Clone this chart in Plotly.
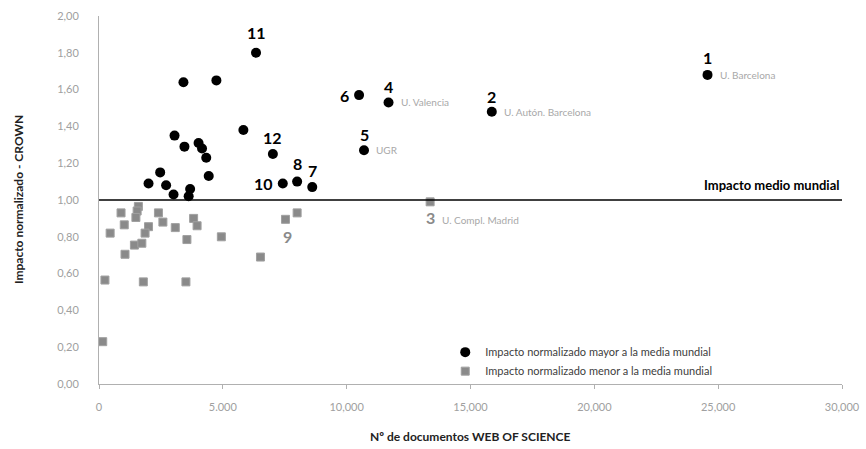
import plotly.graph_objects as go

# ---------------- data ----------------
# Universities above world average (black)
high_labels = ["1", "2", "4", "5", "6", "7", "8", "10", "11", "12",
               "", "", "", "", "", "", "", "", "", "", "", "", "", "", ""]
high_names = ["U. Barcelona", "U. Autón. Barcelona", "U. Valencia", "UGR", "", "", "", "", "", "",
              "", "", "", "", "", "", "", "", "", "", "", "", "", "", ""]
high_docs = [24570, 15860, 11690, 10700, 10500, 8610, 8000, 7420, 6340, 7020,
             3410, 4740, 3050, 5830, 3450, 4020, 4160, 4330, 4430, 2470,
             2000, 2710, 3680, 3010, 3620]
high_impact = [1.68, 1.48, 1.53, 1.27, 1.57, 1.07, 1.10, 1.09, 1.80, 1.25,
               1.64, 1.65, 1.35, 1.38, 1.29, 1.31, 1.28, 1.23, 1.13, 1.15,
               1.09, 1.08, 1.06, 1.03, 1.02]

# Universities below world average (grey)
low_labels = ["3", "9", "", "", "", "", "", "", "", "", "", "", "", "",
              "", "", "", "", "", "", "", "", "", "", "", ""]
low_names = ["U. Compl. Madrid", "", "", "", "", "", "", "", "", "", "", "", "", "",
             "", "", "", "", "", "", "", "", "", "", "", ""]
low_docs = [13370, 7530, 8000, 890, 1020, 1590, 1540, 1490, 450, 2000, 1860,
            2400, 2580, 3080, 3820, 3960, 3550, 1430, 1730, 1050, 4940, 6520,
            240, 1790, 3510, 150]
low_impact = [0.99, 0.895, 0.93, 0.93, 0.865, 0.965, 0.94, 0.905, 0.82, 0.855, 0.82,
              0.93, 0.88, 0.85, 0.90, 0.86, 0.785, 0.755, 0.765, 0.705, 0.80, 0.69,
              0.565, 0.555, 0.555, 0.23]

world_mean = 1.0
x_tickvals = [0, 5000, 10000, 15000, 20000, 25000, 30000]
x_ticktext = ["0", "5.000", "10,000", "15,000", "20,000", "25,000", "30,000"]
y_tickvals = [0, 0.2, 0.4, 0.6, 0.8, 1.0, 1.2, 1.4, 1.6, 1.8, 2.0]
y_ticktext = ["0,00", "0,20", "0,40", "0,60", "0,80", "1,00", "1,20", "1,40", "1,60", "1,80", "2,00"]
x_title = "Nº de documentos WEB OF SCIENCE"
y_title = "Impacto normalizado - CROWN"

# ---------------- styles ----------------
FONT = "Lato"
label_offsets = {  # (xshift, yshift, xanchor)
    "1": (0, 17, "center"), "2": (0, 15, "center"), "4": (0, 16, "center"),
    "5": (0, 16, "center"), "6": (-8, 0, "right"), "7": (0, 17, "center"),
    "8": (0, 18, "center"), "10": (-8, 0, "right"), "11": (0, 20, "center"),
    "12": (0, 17, "center"), "3": (0, -16, "center"), "9": (2, -17, "center"),
}

fig = go.Figure()

fig.add_trace(go.Scatter(
    x=high_docs, y=high_impact, mode="markers",
    marker=dict(symbol="circle", size=10, color="#000000"),
    name="Impacto normalizado mayor a la media mundial",
))
fig.add_trace(go.Scatter(
    x=low_docs, y=low_impact, mode="markers",
    marker=dict(symbol="square", size=8, color="#8a8a8a",
                line=dict(color="#a0a0a0", width=1)),
    name="Impacto normalizado menor a la media mundial",
))

# world mean line
fig.add_shape(type="line", xref="x", yref="y", x0=0, x1=30000,
              y0=world_mean, y1=world_mean, line=dict(color="#000000", width=1.5))
fig.add_annotation(xref="x", yref="y", x=30000, y=world_mean, yshift=15,
                   text="<b>Impacto medio mundial</b>", showarrow=False,
                   xanchor="right", font=dict(family=FONT, size=13, color="#000000"))

def add_labels(labels, names, xs, ys, color, name_color):
    for lab, nm, xv, yv in zip(labels, names, xs, ys):
        if lab:
            dx, dy, anc = label_offsets[lab]
            fig.add_annotation(xref="x", yref="y", x=xv, y=yv, xshift=dx, yshift=dy,
                               text="<b>%s</b>" % lab, showarrow=False, xanchor=anc,
                               font=dict(family=FONT, size=16, color=color))
        if nm:
            dy = -18 if lab == "3" else 0
            fig.add_annotation(xref="x", yref="y", x=xv, y=yv, xshift=10, yshift=dy,
                               text=nm, showarrow=False, xanchor="left",
                               font=dict(family=FONT, size=10, color=name_color))

add_labels(high_labels, high_names, high_docs, high_impact, "#000000", "#a8a8a8")
add_labels(low_labels, low_names, low_docs, low_impact, "#8a8a8a", "#a8a8a8")

# axis titles
fig.add_annotation(xref="paper", yref="paper", x=0.5, y=-0.144, yanchor="middle",
                   text="<b>%s</b>" % x_title, showarrow=False,
                   font=dict(family=FONT, size=12, color="#222222"))
fig.add_annotation(xref="paper", yref="paper", x=-0.109, y=0.5, xanchor="center",
                   text="<b>%s</b>" % y_title, showarrow=False, textangle=-90,
                   font=dict(family=FONT, size=12, color="#222222"))

fig.update_layout(
    width=866, height=449,
    margin=dict(l=99, r=24, t=16, b=65),
    paper_bgcolor="white", plot_bgcolor="white",
    font=dict(family=FONT, size=12, color="#333333"),
    showlegend=True,
    legend=dict(x=0.466, y=0.126, xanchor="left", yanchor="top",
                font=dict(family=FONT, size=11, color="#404040"),
                bgcolor="rgba(0,0,0,0)", tracegroupgap=0),
    xaxis=dict(range=[0, 30000], tickvals=x_tickvals, ticktext=x_ticktext,
               automargin=False,
               showgrid=False, zeroline=False, showline=True, linecolor="#b0b0b0",
               linewidth=1, ticks="outside", ticklen=4, tickcolor="#b0b0b0",
               ticklabelstandoff=9,
               tickfont=dict(family=FONT, size=11, color="#a0a0a0")),
    yaxis=dict(range=[0, 2.0], tickvals=y_tickvals, ticktext=y_ticktext,
               automargin=False,
               showgrid=False, zeroline=False, showline=True, linecolor="#b0b0b0",
               linewidth=1, ticks="", ticklabelstandoff=17,
               tickfont=dict(family=FONT, size=11, color="#a0a0a0")),
)

# remove the default 8px page margin so the figure fills the window exactly
fig.write_html("out.html", config={"displayModeBar": False},
               post_script="document.body.style.margin='0';document.body.style.overflow='hidden';")
